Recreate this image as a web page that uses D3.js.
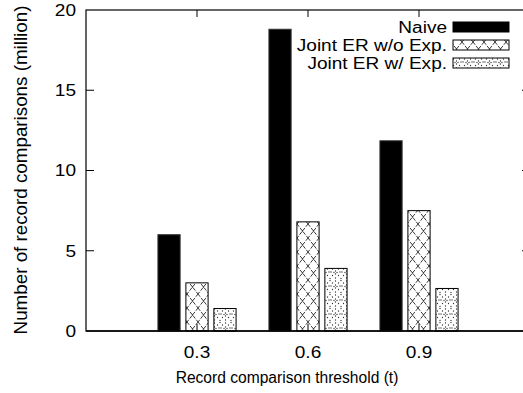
<!DOCTYPE html>
<html>
<head>
<meta charset="utf-8">
<script src="https://cdn.jsdelivr.net/npm/d3@7"></script>
<style>
  html, body { margin: 0; padding: 0; background: #fff; }
  svg { display: block; font-family: "Liberation Sans", Arial, sans-serif; }
</style>
</head>
<body>
<div id="chart"></div>
<script>
const thresholds = ["0.3", "0.6", "0.9"];
const seriesNames = ["Naive", "Joint ER w/o Exp.", "Joint ER w/ Exp."];
const naive = [6.0, 18.8, 11.85];
const jointNoExp = [3.0, 6.8, 7.5];
const jointExp = [1.4, 3.9, 2.65];
const yTicks = [0, 5, 10, 15, 20];

const width = 523, height = 393;
const svg = d3.select("#chart").append("svg")
  .attr("width", width).attr("height", height);

// the labels in the original look horizontally stretched a bit
const stretch = (sx, sy) => `translate(${sx},${sy}) scale(1.19,1)`;

// gnuplot-ish fill patterns
const defs = svg.append("defs");
const cross = defs.append("pattern").attr("id", "pat-cross")
  .attr("patternUnits", "userSpaceOnUse").attr("width", 11).attr("height", 14);
cross.append("path").attr("d", "M0,0 L11,14 M11,0 L0,14")
  .attr("stroke", "#222").attr("stroke-width", 0.9).attr("stroke-dasharray", "3.5 1.5");
cross.append("circle").attr("cx", 5.5).attr("cy", 7).attr("r", 0.8).attr("fill", "#222");

const dots = defs.append("pattern").attr("id", "pat-dots")
  .attr("patternUnits", "userSpaceOnUse").attr("width", 11).attr("height", 14);
[[5.5, 1], [2.5, 3], [8.5, 3], [1, 6], [10, 6], [2.5, 9.5], [8.5, 9.5], [5.5, 12],
 [4, 6.5], [7, 6.5], [5.5, 5], [5.5, 8], [0, 12.5], [11, 12.5], [0, 0.5], [11, 0.5]]
  .forEach(([cx, cy]) => dots.append("circle").attr("cx", cx).attr("cy", cy).attr("r", 0.65).attr("fill", "#333"));

const fills = ["#000", "url(#pat-cross)", "url(#pat-dots)"];
const values = [naive, jointNoExp, jointExp];

const x = d3.scaleLinear().domain([-1, 3]).range([86, 530]);
const y = d3.scaleLinear().domain([0, 20]).range([331, 10]);
const offset = d3.scaleLinear().domain([0, 2]).range([-0.252, 0.252]);
const barW = x(0.2) - x(0);

// frame
svg.append("rect")
  .attr("x", x(-1)).attr("y", y(20))
  .attr("width", x(3) - x(-1)).attr("height", y(0) - y(20))
  .attr("fill", "none").attr("stroke", "#000").attr("stroke-width", 1.2);

// y ticks, left and mirrored on the right
const ticks = svg.append("g").attr("stroke", "#000").attr("stroke-width", 1);
yTicks.slice(1, -1).forEach((t) => {
  ticks.append("line").attr("x1", x(-1)).attr("x2", x(-1) + 8).attr("y1", y(t)).attr("y2", y(t));
  ticks.append("line").attr("x1", x(3)).attr("x2", x(3) - 8).attr("y1", y(t)).attr("y2", y(t));
});
thresholds.forEach((_, i) => {
  ticks.append("line").attr("x1", x(i)).attr("x2", x(i)).attr("y1", y(20)).attr("y2", y(20) + 7);
  ticks.append("line").attr("x1", x(i)).attr("x2", x(i)).attr("y1", y(0)).attr("y2", y(0) - 7);
});

svg.append("g").selectAll("text").data(yTicks).enter().append("text")
  .attr("transform", (d) => stretch(76, y(d))).attr("dy", "0.36em")
  .attr("text-anchor", "end").attr("font-size", 16).text((d) => d);

svg.append("g").selectAll("text").data(thresholds).enter().append("text")
  .attr("transform", (d, i) => stretch(x(i), 358))
  .attr("text-anchor", "middle").attr("font-size", 16).text((d) => d);

// bars
values.forEach((vals, s) => {
  svg.append("g").selectAll("rect").data(vals).enter().append("rect")
    .attr("x", (d, i) => x(i + offset(s)) - barW / 2)
    .attr("y", (d) => y(d))
    .attr("width", barW)
    .attr("height", (d) => y(0) - y(d))
    .attr("fill", fills[s])
    .attr("stroke", s === 0 ? "#333" : "#000")
    .attr("stroke-width", 1);
});

// redraw bottom edge over bars
svg.append("line").attr("x1", x(-1)).attr("x2", x(3)).attr("y1", y(0)).attr("y2", y(0))
  .attr("stroke", "#000").attr("stroke-width", 1.6);

// legend
const legend = svg.append("g");
seriesNames.forEach((name, i) => {
  const cy = 27 + i * 18;
  legend.append("text").attr("transform", stretch(447, cy)).attr("dy", "0.36em")
    .attr("text-anchor", "end").attr("font-size", 16).text(name);
  legend.append("rect").attr("x", 453).attr("y", cy - 5).attr("width", 56).attr("height", 10)
    .attr("fill", fills[i]).attr("stroke", "#000").attr("stroke-width", 1);
});

// axis titles
svg.append("text").attr("x", 287).attr("y", 383)
  .attr("text-anchor", "middle").attr("font-size", 15.6)
  .text("Record comparison threshold (t)");
svg.append("text")
  .attr("transform", `translate(27,170) rotate(-90)`)
  .attr("text-anchor", "middle").attr("font-size", 18.8)
  .text("Number of record comparisons (million)");
</script>
</body>
</html>
